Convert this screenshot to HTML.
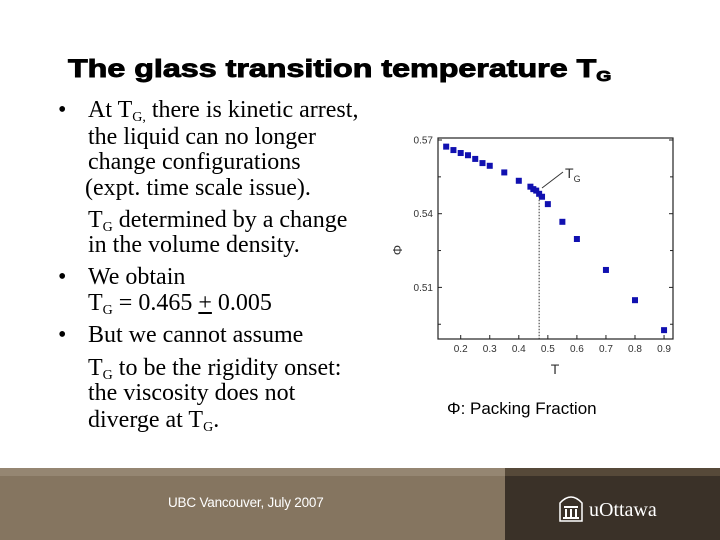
<!DOCTYPE html>
<html><head><meta charset="utf-8"><style>
body{margin:0;width:720px;height:540px;position:relative;background:#fff;overflow:hidden;font-family:"Liberation Serif",serif}
#title{position:absolute;left:68px;top:55px;font:bold 25px "Liberation Sans",sans-serif;color:#000;white-space:nowrap;-webkit-text-stroke:0.9px #000;transform-origin:0 0}
#title sub{font-size:15px;vertical-align:-4px}
#bullets{position:absolute;left:0;top:0;font-size:24px;color:#000}
#bullets div{white-space:nowrap;position:absolute;line-height:26px}
#bullets span.b{position:absolute;left:-30px}
sub{font-size:14px;vertical-align:-4px}
#caption{position:absolute;left:447px;top:399px;font:17px "Liberation Sans","DejaVu Sans",sans-serif}
</style></head><body>
<div id="title">The glass transition temperature T<sub>G</sub></div>
<div id="bullets">
<div style="left:88px;top:97px"><span class="b">•</span>At T<sub>G,</sub> there is kinetic arrest,</div>
<div style="left:88px;top:124px">the liquid can no longer</div>
<div style="left:88px;top:149px">change configurations</div>
<div style="left:85px;top:175px">(expt. time scale issue).</div>
<div style="left:88px;top:207px">T<sub>G</sub> determined by a change</div>
<div style="left:88px;top:232px">in the volume density.</div>
<div style="left:88px;top:264px"><span class="b">•</span>We obtain</div>
<div style="left:88px;top:290px">T<sub>G</sub> = 0.465 <u>+</u> 0.005</div>
<div style="left:88px;top:322px"><span class="b">•</span>But we cannot assume</div>
<div style="left:88px;top:355px">T<sub>G</sub> to be the rigidity onset:</div>
<div style="left:88px;top:380px">the viscosity does not</div>
<div style="left:88px;top:407px">diverge at T<sub>G</sub>.</div>
</div>
<svg id="chart" width="720" height="540" style="position:absolute;left:0;top:0"></svg>
<div id="caption">Φ: Packing Fraction</div>
<div style="position:absolute;left:0;top:468px;width:505px;height:8px;background:#958672"></div>
<div style="position:absolute;left:0;top:476px;width:505px;height:64px;background:#857560"></div>
<div style="position:absolute;left:505px;top:468px;width:215px;height:8px;background:#564939"></div>
<div style="position:absolute;left:505px;top:476px;width:215px;height:64px;background:#3a3128"></div>
<div style="position:absolute;left:168px;top:495px;font:13.5px 'Liberation Sans',sans-serif;color:#fff;letter-spacing:-0.2px">UBC Vancouver, July 2007</div>
<svg style="position:absolute;left:557px;top:493px" width="28" height="30"><path d="M3 28V10Q14 -2 25 10V28Z" fill="none" stroke="#fff" stroke-width="1.5"/><rect x="7" y="13" width="14" height="2" fill="#fff"/><rect x="8" y="16" width="2" height="8" fill="#fff"/><rect x="13" y="16" width="2" height="8" fill="#fff"/><rect x="18" y="16" width="2" height="8" fill="#fff"/><rect x="6" y="24" width="16" height="2" fill="#fff"/></svg>
<div style="position:absolute;left:589px;top:499px;font:20px 'Liberation Serif',serif;color:#fff">uOttawa</div>
<script>
const ti=document.getElementById('title');
ti.style.transform='scaleX('+(544/ti.offsetWidth)+')';
const temps=[0.15,0.175,0.2,0.225,0.25,0.275,0.3,0.35,0.4,0.44,0.45,0.46,0.47,0.48,0.5,0.55,0.6,0.7,0.8,0.9];
const phis=[0.5673,0.5659,0.5647,0.5638,0.5623,0.5606,0.5595,0.5568,0.5534,0.5510,0.5500,0.5494,0.5481,0.5469,0.5439,0.5367,0.5297,0.5171,0.5048,0.4926];
const xTicks=[0.2,0.3,0.4,0.5,0.6,0.7,0.8,0.9];
const xTickLabels=["0.2","0.3","0.4","0.5","0.6","0.7","0.8","0.9"];
const yTicks=[0.57,0.54,0.51];
const yTickLabels=["0.57","0.54","0.51"];
const yMinor=[0.555,0.525,0.495];
const tg=0.47, tgPhi=0.5481;
const L=438,R=673,T=138,B=339;
const X=v=>460.7+(v-0.2)*290.5;
const Y=v=>140-(v-0.57)*(73.7/0.03);
const svg=document.getElementById('chart');
const NS='http://www.w3.org/2000/svg';
function mk(t,a){const e=document.createElementNS(NS,t);for(const k in a)e.setAttribute(k,a[k]);svg.appendChild(e);return e;}
let e=mk('rect',{x:L,y:T,width:R-L,height:B-T,fill:'none',stroke:'#222','stroke-width':1.2});


xTicks.forEach((v,i)=>{
 let t=mk('line',{x1:X(v),x2:X(v),y1:B,y2:B-4,stroke:'#222'});
 
 
 let l=mk('text',{x:X(v),y:B+13,'text-anchor':'middle','font-size':10,'font-family':'Liberation Sans, sans-serif',fill:'#333'});
 l.textContent=xTickLabels[i];
 
 
});
yTicks.forEach((v,i)=>{
 [[L,L+4],[R,R-4]].forEach(p=>{let t=mk('line',{x1:p[0],x2:p[1],y1:Y(v),y2:Y(v),stroke:'#222'});
 
 });
 let l=mk('text',{x:L-5,y:Y(v)+3.5,'text-anchor':'end','font-size':10,'font-family':'Liberation Sans, sans-serif',fill:'#333'});
 l.textContent=yTickLabels[i];
 
 
});
yMinor.forEach(v=>{[[L,L+3],[R,R-3]].forEach(p=>{let t=mk('line',{x1:p[0],x2:p[1],y1:Y(v),y2:Y(v),stroke:'#222'});
 
 });});
let d=mk('line',{x1:X(tg),x2:X(tg),y1:Y(tgPhi),y2:B,stroke:'#333','stroke-dasharray':'1.5,1.5'});


temps.forEach((v,i)=>{
 let r=mk('rect',{x:X(v)-3,y:Y(phis[i])-3,width:6,height:6,fill:'#1010b0'});
 
 
});
let a=mk('line',{x1:563,y1:172,x2:542,y2:188,stroke:'#333'});


let tt=mk('text',{x:565,y:178,'font-size':14,'font-family':'Liberation Sans, sans-serif',fill:'#333'});
tt.innerHTML='T<tspan font-size="9" dy="4">G</tspan>';


let xt=mk('text',{x:555,y:374,'text-anchor':'middle','font-size':14,'font-family':'Liberation Sans, sans-serif',fill:'#333'});
xt.textContent='T';


let yt=mk('text',{x:402,y:250,'text-anchor':'middle','font-size':13,'font-family':'Liberation Sans, DejaVu Sans, sans-serif',fill:'#333',transform:'rotate(-90 402 250)'});
yt.textContent='Φ';


</script>
</body></html>
